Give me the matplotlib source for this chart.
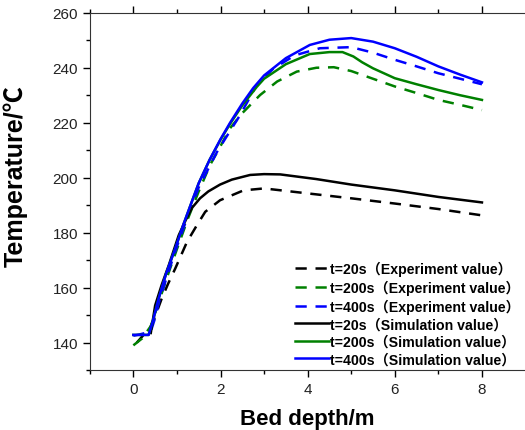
import matplotlib
matplotlib.use('Agg')
import matplotlib.pyplot as plt
from matplotlib.ticker import MultipleLocator

plt.rcParams['font.family'] = ['Liberation Sans', 'Noto Sans CJK SC', 'DejaVu Sans']

# bed depth (m) / temperature (deg C)
exp20_x = [0.08, 0.39, 0.5, 0.65, 0.8, 0.96, 1.23, 1.45, 1.65, 1.99, 2.53, 3.0, 4.05, 5.0, 6.0, 7.0, 8.0]
exp20_y = [140.0, 145.6, 149.5, 156.0, 161.5, 166.9, 176.6, 182.5, 187.6, 191.8, 195.4, 196.1, 194.2, 192.5, 190.6, 188.6, 186.3]

exp200_x = [0.0, 0.2, 0.4, 0.6, 0.8, 1.0, 1.25, 1.5, 1.76, 2.0, 2.22, 2.5, 2.91, 3.3, 3.75, 4.2, 4.6, 5.0, 5.5, 6.0, 6.5, 7.0, 7.5, 8.0]
exp200_y = [139.0, 141.5, 146.0, 155.5, 165.0, 174.0, 185.0, 195.0, 204.6, 211.5, 218.0, 223.5, 230.1, 235.0, 238.6, 240.0, 240.2, 238.8, 236.0, 233.2, 230.8, 228.3, 226.5, 224.6]

exp400_x = [0.0, 0.15, 0.4, 0.5, 0.6, 0.8, 1.0, 1.25, 1.5, 1.92, 2.22, 2.45, 2.83, 3.2, 3.7, 4.28, 5.0, 5.5, 6.0, 6.5, 7.0, 7.5, 8.0]
exp400_y = [142.5, 143.0, 144.0, 149.0, 155.5, 165.5, 175.0, 186.0, 196.5, 209.4, 217.0, 222.8, 233.7, 239.5, 244.5, 247.1, 247.5, 245.5, 242.9, 240.5, 238.0, 236.0, 234.0]

sim20_x = [0.4, 0.5, 0.65, 0.81, 1.04, 1.2, 1.34, 1.53, 1.72, 1.99, 2.26, 2.68, 3.0, 3.37, 4.2, 5.0, 6.0, 7.0, 8.0]
sim20_y = [143.5, 153.5, 161.0, 168.0, 179.0, 184.5, 188.9, 192.5, 195.0, 197.5, 199.3, 201.0, 201.3, 201.2, 199.5, 197.5, 195.4, 193.0, 191.0]

sim200_x = [0.0, 0.35, 0.45, 0.58, 0.75, 0.96, 1.15, 1.34, 1.5, 1.75, 2.0, 2.22, 2.5, 2.83, 3.0, 3.5, 4.05, 4.5, 4.8, 5.05, 5.25, 5.5, 6.0, 6.5, 7.0, 7.5, 8.0]
sim200_y = [142.8, 142.8, 148.0, 156.0, 165.0, 174.2, 183.0, 191.2, 198.0, 206.5, 213.8, 219.6, 226.3, 233.0, 236.0, 241.3, 245.0, 245.7, 245.7, 244.1, 242.0, 239.8, 236.2, 234.0, 231.9, 230.0, 228.3]

sim400_x = [0.0, 0.35, 0.45, 0.58, 0.75, 0.96, 1.15, 1.34, 1.5, 1.75, 2.0, 2.22, 2.5, 2.75, 3.0, 3.5, 4.05, 4.5, 5.0, 5.5, 6.0, 6.5, 7.0, 7.5, 8.0]
sim400_y = [142.8, 142.8, 148.0, 156.0, 165.0, 174.2, 183.0, 191.2, 198.0, 206.5, 214.0, 220.0, 227.0, 232.6, 237.2, 243.5, 248.3, 250.2, 250.8, 249.5, 247.1, 244.0, 240.5, 237.5, 234.7]

labels = [
    't=20s\uff08Experiment value\uff09',
    't=200s\uff08Experiment value\uff09',
    't=400s\uff08Experiment value\uff09',
    't=20s\uff08Simulation value\uff09',
    't=200s\uff08Simulation value\uff09',
    't=400s\uff08Simulation value\uff09',
]

GREEN = '#008000'
BLUE = '#0000ff'
DASH = (0, (4.5, 3.5))

fig = plt.figure(figsize=(5.25, 4.31), dpi=100)
ax = fig.add_axes([0.171, 0.139, 0.83, 0.829])

ax.plot(exp20_x, exp20_y, color='black', lw=1.8, ls=DASH, label=labels[0])
ax.plot(exp200_x, exp200_y, color=GREEN, lw=1.8, ls=DASH, label=labels[1])
ax.plot(exp400_x, exp400_y, color=BLUE, lw=1.8, ls=DASH, label=labels[2])
ax.plot(sim20_x, sim20_y, color='black', lw=1.8, label=labels[3])
ax.plot(sim200_x, sim200_y, color=GREEN, lw=1.8, label=labels[4])
ax.plot(sim400_x, sim400_y, color=BLUE, lw=1.8, label=labels[5])

ax.set_xlim(-1, 9)
ax.set_ylim(130, 260)
ax.xaxis.set_major_locator(MultipleLocator(2))
ax.xaxis.set_minor_locator(MultipleLocator(1))
ax.yaxis.set_minor_locator(MultipleLocator(10))
ax.set_yticks([140, 160, 180, 200, 220, 240, 260])

ax.tick_params(which='both', direction='out', top=True, right=False,
               labelsize=11, labelcolor='#222222', width=1)
ax.tick_params(which='major', length=5)
ax.tick_params(which='minor', length=3)
ax.spines['right'].set_visible(False)
for s in ('left', 'bottom', 'top'):
    ax.spines[s].set_color('#333333')

ax.set_xlabel('Bed depth/m', fontsize=16, fontweight='bold', labelpad=9)
ax.set_ylabel('Temperature/\u2103', fontsize=18, fontweight='bold')
ax.yaxis.set_label_coords(-0.143, 0.546)

ax.legend(loc='lower right', frameon=False, prop={'size': 10.2, 'weight': 'bold'},
          handlelength=2.4, handletextpad=0.1, labelspacing=0.25,
          borderaxespad=0.0, bbox_to_anchor=(1.0, -0.005))

fig.savefig('out.png', dpi=100)
